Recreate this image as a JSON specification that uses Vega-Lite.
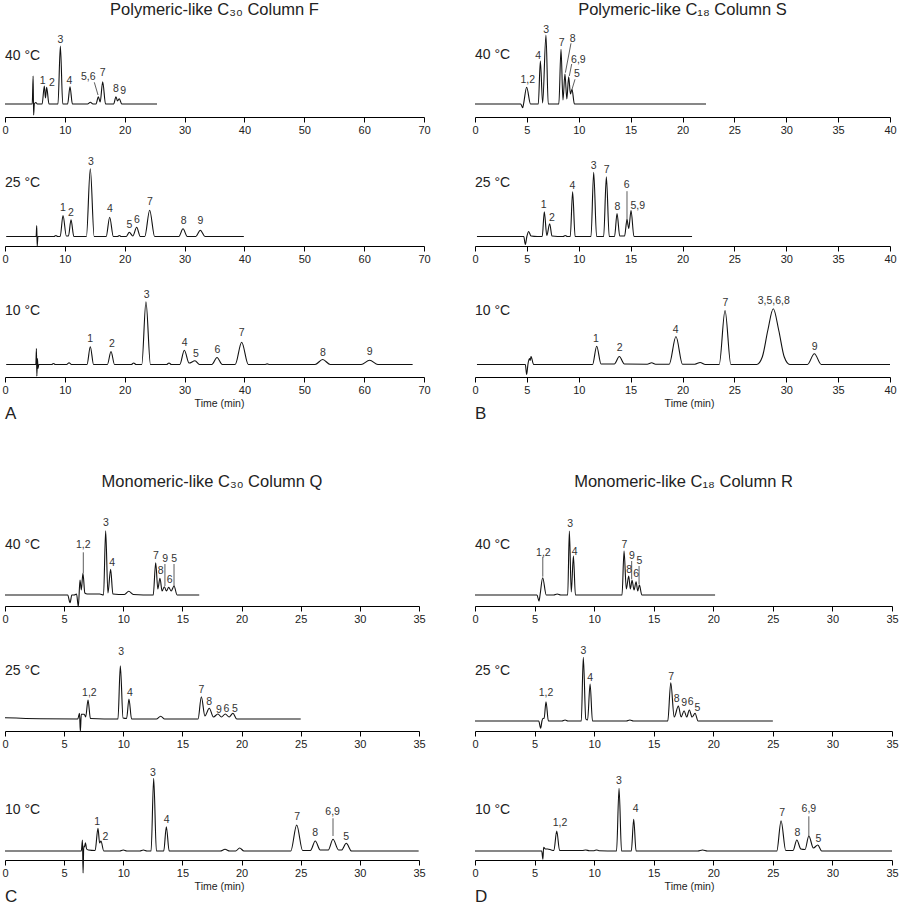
{
"$schema":"https://vega.github.io/schema/vega-lite/v6.json",
"padding":{"left":1,"top":0,"right":0,"bottom":0},
"config":{"font":"Liberation Sans","view":{"stroke":null},
"axis":{"domainColor":"#000","domainWidth":1.2,"tickColor":"#000","tickWidth":1,"tickSize":5,"labelFontSize":11,"labelColor":"#222","labelPadding":2,"labelFlush":false,"labelOverlap":false,"grid":false,"titleFontSize":10.5,"titleFontWeight":"normal","titleColor":"#222","titlePadding":3},
"line":{"interpolate":"monotone","color":"#111","strokeWidth":1.1},
"rule":{"color":"#333","strokeWidth":0.8},
"text":{"color":"#333","fontSize":10.5,"baseline":"middle"}},
"columns":2,"spacing":{"row":30,"column":51},"bounds":"flush",
"concat":[
{"width":419,"height":117,"layer":[
{"data":{"values":[{"t":0,"s":0},{"t":4.55,"s":0},{"t":4.7,"s":28},{"t":4.78,"s":-11},{"t":4.9,"s":0},{"t":5.15,"s":1.5},{"t":5.4,"s":0},{"t":6.2,"s":0},{"t":6.57,"s":18},{"t":6.76,"s":6},{"t":6.96,"s":16.7},{"t":7.35,"s":0},{"t":8.85,"s":0},{"t":9.25,"s":58},{"t":9.65,"s":0},{"t":10.46,"s":0},{"t":10.86,"s":17.3},{"t":11.26,"s":0},{"t":13.8,"s":0},{"t":14.26,"s":1.7},{"t":14.7,"s":0},{"t":15.2,"s":0},{"t":15.6,"s":7.3},{"t":15.9,"s":2},{"t":16.32,"s":22.3},{"t":16.8,"s":0},{"t":18.15,"s":0},{"t":18.54,"s":7.3},{"t":18.8,"s":3},{"t":19.1,"s":5.3},{"t":19.5,"s":0},{"t":25.4,"s":0}]},
"mark":"line","encoding":{"x":{"field":"t","type":"quantitative","scale":{"domain":[0,70],"nice":false},"axis":{"values":[0,10,20,30,40,50,60,70],"title":null}},"y":{"field":"s","type":"quantitative","scale":{"domain":[-13,104],"nice":false,"zero":false},"axis":null}}},
{"data":{"values":[{"t":6.3,"s":23,"lab":"1"},{"t":7.85,"s":21.3,"lab":"2"},{"t":9.24,"s":64,"lab":"3"},{"t":10.75,"s":23.3,"lab":"4"},{"t":13.92,"s":26.7,"lab":"5,6"},{"t":16.32,"s":31.3,"lab":"7"},{"t":18.54,"s":15,"lab":"8"},{"t":19.76,"s":13.3,"lab":"9"}]},
"mark":"text","encoding":{"x":{"field":"t","type":"quantitative","title":null},"y":{"field":"s","type":"quantitative","axis":null},"text":{"field":"lab"}}},
{"data":{"values":[{"t":14.92,"s":21.7,"t2":15.54,"s2":9}]},"mark":"rule","encoding":{"x":{"field":"t","type":"quantitative","title":null},"y":{"field":"s","type":"quantitative","axis":null},"x2":{"field":"t2"},"y2":{"field":"s2"}}},
{"data":{"values":[{"lab":"40 °C"}]},"mark":{"type":"text","align":"left","baseline":"alphabetic","fontSize":14,"color":"#222"},"encoding":{"x":{"datum":0,"type":"quantitative","title":null},"y":{"datum":44,"type":"quantitative","axis":null},"text":{"field":"lab"}}},
{"data":{"values":[{"lab":"Polymeric-like C₃₀ Column F"}]},"mark":{"type":"text","align":"center","baseline":"alphabetic","fontSize":16.5,"color":"#222"},"encoding":{"x":{"datum":35,"type":"quantitative","title":null},"y":{"datum":89.5,"type":"quantitative","axis":null},"text":{"field":"lab"}}}
]},
{"width":415,"height":117,"layer":[
{"data":{"values":[{"t":0,"s":0},{"t":4.4,"s":0},{"t":4.6,"s":-3.7},{"t":4.68,"s":0},{"t":4.98,"s":16.7},{"t":5.35,"s":0},{"t":6.1,"s":0},{"t":6.3,"s":43},{"t":6.52,"s":1},{"t":6.84,"s":69},{"t":7.06,"s":0},{"t":8.08,"s":0},{"t":8.29,"s":54.7},{"t":8.48,"s":4},{"t":8.67,"s":30},{"t":8.85,"s":5},{"t":9.03,"s":27.3},{"t":9.2,"s":10},{"t":9.35,"s":14.7},{"t":9.58,"s":0},{"t":22.27,"s":0}]},
"mark":"line","encoding":{"x":{"field":"t","type":"quantitative","scale":{"domain":[0,40],"nice":false},"axis":{"values":[0,5,10,15,20,25,30,35,40],"title":null}},"y":{"field":"s","type":"quantitative","scale":{"domain":[-13,104],"nice":false,"zero":false},"axis":null}}},
{"data":{"values":[{"t":5.08,"s":24,"lab":"1,2"},{"t":6.1,"s":48,"lab":"4"},{"t":6.87,"s":74,"lab":"3"},{"t":8.35,"s":60.7,"lab":"7"},{"t":9.41,"s":64.7,"lab":"8"},{"t":9.96,"s":44,"lab":"6,9"},{"t":9.83,"s":30,"lab":"5"}]},
"mark":"text","encoding":{"x":{"field":"t","type":"quantitative","title":null},"y":{"field":"s","type":"quantitative","axis":null},"text":{"field":"lab"}}},
{"data":{"values":[{"t":9.25,"s":60.7,"t2":8.71,"s2":31.3},{"t":9.32,"s":40,"t2":9.09,"s2":28},{"t":9.64,"s":24.7,"t2":9.35,"s2":14.7}]},"mark":"rule","encoding":{"x":{"field":"t","type":"quantitative","title":null},"y":{"field":"s","type":"quantitative","axis":null},"x2":{"field":"t2"},"y2":{"field":"s2"}}},
{"data":{"values":[{"lab":"40 °C"}]},"mark":{"type":"text","align":"left","baseline":"alphabetic","fontSize":14,"color":"#222"},"encoding":{"x":{"datum":0,"type":"quantitative","title":null},"y":{"datum":44.7,"type":"quantitative","axis":null},"text":{"field":"lab"}}},
{"data":{"values":[{"lab":"Polymeric-like C₁₈ Column S"}]},"mark":{"type":"text","align":"center","baseline":"alphabetic","fontSize":16.5,"color":"#222"},"encoding":{"x":{"datum":20,"type":"quantitative","title":null},"y":{"datum":89.5,"type":"quantitative","axis":null},"text":{"field":"lab"}}}
]},
{"width":419,"height":99,"layer":[
{"data":{"values":[{"t":0.2,"s":0},{"t":5.2,"s":0},{"t":5.3,"s":11},{"t":5.38,"s":-9.7},{"t":5.5,"s":0},{"t":8.2,"s":0},{"t":8.5,"s":1},{"t":8.8,"s":0},{"t":9.22,"s":0},{"t":9.69,"s":21},{"t":10.25,"s":0.5},{"t":10.6,"s":0.5},{"t":11.03,"s":16.7},{"t":11.5,"s":0},{"t":13.6,"s":0},{"t":14.25,"s":67.7},{"t":14.9,"s":0},{"t":16.9,"s":0},{"t":17.49,"s":19.3},{"t":18.1,"s":0},{"t":18.8,"s":0},{"t":19.1,"s":1},{"t":19.4,"s":0},{"t":20.27,"s":0},{"t":20.77,"s":4.3},{"t":21.35,"s":0.5},{"t":22.0,"s":9.3},{"t":22.6,"s":0},{"t":23.35,"s":0},{"t":24.17,"s":26.3},{"t":25.0,"s":0},{"t":29.05,"s":0},{"t":29.74,"s":7.7},{"t":30.45,"s":0},{"t":31.88,"s":0},{"t":32.63,"s":6.3},{"t":33.4,"s":0},{"t":39.9,"s":0}]},
"mark":"line","encoding":{"x":{"field":"t","type":"quantitative","scale":{"domain":[0,70],"nice":false},"axis":{"values":[0,10,20,30,40,50,60,70],"title":null}},"y":{"field":"s","type":"quantitative","scale":{"domain":[-9.5,89.5],"nice":false,"zero":false},"axis":null}}},
{"data":{"values":[{"t":9.69,"s":28.7,"lab":"1"},{"t":11.03,"s":23.7,"lab":"2"},{"t":14.37,"s":74.3,"lab":"3"},{"t":17.54,"s":28,"lab":"4"},{"t":20.77,"s":11.3,"lab":"5"},{"t":22.05,"s":17,"lab":"6"},{"t":24.22,"s":35,"lab":"7"},{"t":29.85,"s":16,"lab":"8"},{"t":32.63,"s":15.3,"lab":"9"}]},
"mark":"text","encoding":{"x":{"field":"t","type":"quantitative","title":null},"y":{"field":"s","type":"quantitative","axis":null},"text":{"field":"lab"}}},
{"data":{"values":[{"lab":"25 °C"}]},"mark":{"type":"text","align":"left","baseline":"alphabetic","fontSize":14,"color":"#222"},"encoding":{"x":{"datum":0,"type":"quantitative","title":null},"y":{"datum":49.7,"type":"quantitative","axis":null},"text":{"field":"lab"}}}
]},
{"width":415,"height":99,"layer":[
{"data":{"values":[{"t":0.19,"s":0},{"t":4.7,"s":0},{"t":4.85,"s":-8},{"t":5.0,"s":0},{"t":5.17,"s":5},{"t":5.4,"s":0.5},{"t":6.0,"s":0},{"t":6.48,"s":0},{"t":6.68,"s":24.7},{"t":6.92,"s":1},{"t":7.2,"s":12.7},{"t":7.42,"s":0.5},{"t":8.5,"s":0},{"t":8.7,"s":1},{"t":8.9,"s":0},{"t":9.18,"s":0},{"t":9.41,"s":44.7},{"t":9.65,"s":0},{"t":11.18,"s":0},{"t":11.44,"s":64.3},{"t":11.72,"s":0},{"t":12.4,"s":0},{"t":12.66,"s":59.7},{"t":12.94,"s":0},{"t":13.45,"s":0},{"t":13.69,"s":23},{"t":13.95,"s":0.5},{"t":14.42,"s":0.5},{"t":14.65,"s":17},{"t":14.82,"s":8},{"t":15.04,"s":26},{"t":15.32,"s":0},{"t":20.92,"s":0}]},
"mark":"line","encoding":{"x":{"field":"t","type":"quantitative","scale":{"domain":[0,40],"nice":false},"axis":{"values":[0,5,10,15,20,25,30,35,40],"title":null}},"y":{"field":"s","type":"quantitative","scale":{"domain":[-9.5,89.5],"nice":false,"zero":false},"axis":null}}},
{"data":{"values":[{"t":6.62,"s":31.3,"lab":"1"},{"t":7.42,"s":18.7,"lab":"2"},{"t":9.38,"s":51,"lab":"4"},{"t":11.44,"s":71,"lab":"3"},{"t":12.69,"s":66.3,"lab":"7"},{"t":13.72,"s":29.3,"lab":"8"},{"t":14.62,"s":51.7,"lab":"6"},{"t":15.68,"s":31,"lab":"5,9"}]},
"mark":"text","encoding":{"x":{"field":"t","type":"quantitative","title":null},"y":{"field":"s","type":"quantitative","axis":null},"text":{"field":"lab"}}},
{"data":{"values":[{"t":14.65,"s":45.3,"t2":14.65,"s2":12}]},"mark":"rule","encoding":{"x":{"field":"t","type":"quantitative","title":null},"y":{"field":"s","type":"quantitative","axis":null},"x2":{"field":"t2"},"y2":{"field":"s2"}}},
{"data":{"values":[{"lab":"25 °C"}]},"mark":{"type":"text","align":"left","baseline":"alphabetic","fontSize":14,"color":"#222"},"encoding":{"x":{"datum":0,"type":"quantitative","title":null},"y":{"datum":50,"type":"quantitative","axis":null},"text":{"field":"lab"}}}
]},
{"width":419,"height":101,"layer":[
{"data":{"values":[{"t":0.2,"s":0},{"t":5.15,"s":0},{"t":5.25,"s":16},{"t":5.32,"s":-11.7},{"t":5.42,"s":6},{"t":5.52,"s":-4},{"t":5.65,"s":0},{"t":7.8,"s":0},{"t":8.1,"s":1},{"t":8.4,"s":0},{"t":10.3,"s":0},{"t":10.7,"s":1.7},{"t":11.1,"s":0},{"t":13.7,"s":0},{"t":14.25,"s":17.7},{"t":14.8,"s":0},{"t":17.1,"s":0},{"t":17.71,"s":13},{"t":18.3,"s":0},{"t":21.1,"s":0},{"t":21.5,"s":1.5},{"t":21.9,"s":0},{"t":22.85,"s":0},{"t":23.55,"s":62.7},{"t":24.3,"s":0},{"t":27.0,"s":0},{"t":27.4,"s":1.5},{"t":27.8,"s":0},{"t":29.2,"s":0},{"t":29.96,"s":14.3},{"t":30.75,"s":1.5},{"t":31.74,"s":3.7},{"t":32.5,"s":0},{"t":34.55,"s":0},{"t":35.42,"s":7},{"t":36.3,"s":0},{"t":38.45,"s":0},{"t":39.54,"s":22.3},{"t":40.65,"s":0},{"t":43.4,"s":0},{"t":43.8,"s":0.6},{"t":44.2,"s":0},{"t":51.8,"s":0},{"t":53.07,"s":5},{"t":54.35,"s":0},{"t":59.5,"s":0},{"t":60.92,"s":4.3},{"t":62.3,"s":0},{"t":68.1,"s":0}]},
"mark":"line","encoding":{"x":{"field":"t","type":"quantitative","scale":{"domain":[0,70],"nice":false},"axis":{"values":[0,10,20,30,40,50,60,70],"title":"Time (min)","titleX":214}},"y":{"field":"s","type":"quantitative","scale":{"domain":[-12.5,88.5],"nice":false,"zero":false},"axis":null}}},
{"data":{"values":[{"t":14.25,"s":26,"lab":"1"},{"t":17.87,"s":21,"lab":"2"},{"t":23.67,"s":69.3,"lab":"3"},{"t":30.02,"s":21.6,"lab":"4"},{"t":31.9,"s":11,"lab":"5"},{"t":35.47,"s":14.3,"lab":"6"},{"t":39.54,"s":32,"lab":"7"},{"t":53.12,"s":12,"lab":"8"},{"t":60.92,"s":12.6,"lab":"9"}]},
"mark":"text","encoding":{"x":{"field":"t","type":"quantitative","title":"Time (min)"},"y":{"field":"s","type":"quantitative","axis":null},"text":{"field":"lab"}}},
{"data":{"values":[{"lab":"10 °C"}]},"mark":{"type":"text","align":"left","baseline":"alphabetic","fontSize":14,"color":"#222"},"encoding":{"x":{"datum":0,"type":"quantitative","title":"Time (min)"},"y":{"datum":50,"type":"quantitative","axis":null},"text":{"field":"lab"}}},
{"data":{"values":[{"lab":"A"}]},"mark":{"type":"text","align":"left","baseline":"alphabetic","fontSize":17,"color":"#222"},"encoding":{"x":{"datum":0,"type":"quantitative","title":"Time (min)"},"y":{"datum":-54.7,"type":"quantitative","scale":{"domain":[-12.5,88.5],"nice":false,"zero":false},"axis":null},"text":{"field":"lab"}}}
]},
{"width":415,"height":101,"layer":[
{"data":{"values":[{"t":0.19,"s":0},{"t":4.85,"s":0},{"t":4.98,"s":-10},{"t":5.1,"s":0},{"t":5.25,"s":6},{"t":5.32,"s":4},{"t":5.4,"s":8},{"t":5.65,"s":0},{"t":11.33,"s":0},{"t":11.73,"s":18.3},{"t":12.15,"s":0.5},{"t":13.43,"s":0.5},{"t":13.91,"s":8},{"t":14.4,"s":0.5},{"t":16.6,"s":0.3},{"t":17.03,"s":1.7},{"t":17.4,"s":0.3},{"t":18.72,"s":0.3},{"t":19.37,"s":28},{"t":20.0,"s":0.3},{"t":21.2,"s":0.3},{"t":21.7,"s":2},{"t":22.2,"s":0},{"t":23.54,"s":0},{"t":24.1,"s":54},{"t":24.66,"s":0},{"t":27.15,"s":0},{"t":27.69,"s":7.5},{"t":28.22,"s":34},{"t":28.75,"s":55.7},{"t":29.28,"s":34},{"t":29.81,"s":7.5},{"t":30.35,"s":0},{"t":32.04,"s":0},{"t":32.71,"s":10.7},{"t":33.38,"s":0},{"t":40,"s":0}]},
"mark":"line","encoding":{"x":{"field":"t","type":"quantitative","scale":{"domain":[0,40],"nice":false},"axis":{"values":[0,5,10,15,20,25,30,35,40],"title":"Time (min)","titleX":214}},"y":{"field":"s","type":"quantitative","scale":{"domain":[-12.5,88.5],"nice":false,"zero":false},"axis":null}}},
{"data":{"values":[{"t":11.66,"s":25.7,"lab":"1"},{"t":13.95,"s":16.7,"lab":"2"},{"t":19.34,"s":34.7,"lab":"4"},{"t":24.13,"s":61.3,"lab":"7"},{"t":28.79,"s":63.3,"lab":"3,5,6,8"},{"t":32.74,"s":18,"lab":"9"}]},
"mark":"text","encoding":{"x":{"field":"t","type":"quantitative","title":"Time (min)"},"y":{"field":"s","type":"quantitative","axis":null},"text":{"field":"lab"}}},
{"data":{"values":[{"lab":"10 °C"}]},"mark":{"type":"text","align":"left","baseline":"alphabetic","fontSize":14,"color":"#222"},"encoding":{"x":{"datum":0,"type":"quantitative","title":"Time (min)"},"y":{"datum":50,"type":"quantitative","axis":null},"text":{"field":"lab"}}},
{"data":{"values":[{"lab":"B"}]},"mark":{"type":"text","align":"left","baseline":"alphabetic","fontSize":17,"color":"#222"},"encoding":{"x":{"datum":0,"type":"quantitative","title":"Time (min)"},"y":{"datum":-54.7,"type":"quantitative","scale":{"domain":[-12.5,88.5],"nice":false,"zero":false},"axis":null},"text":{"field":"lab"}}}
]},
{"width":414,"height":199,"layer":[
{"data":{"values":[{"t":0,"s":0},{"t":5.3,"s":0},{"t":5.5,"s":-7.7},{"t":5.65,"s":0},{"t":5.85,"s":0},{"t":6.05,"s":1},{"t":6.2,"s":-11.7},{"t":6.34,"s":15},{"t":6.45,"s":5},{"t":6.59,"s":21.7},{"t":6.75,"s":2},{"t":6.95,"s":1},{"t":8.0,"s":1},{"t":8.33,"s":0},{"t":8.51,"s":64.3},{"t":8.7,"s":2},{"t":8.93,"s":25.7},{"t":9.12,"s":1},{"t":10.1,"s":0.5},{"t":10.46,"s":3.7},{"t":10.85,"s":0.5},{"t":12.53,"s":0},{"t":12.74,"s":32.3},{"t":12.92,"s":6},{"t":13.1,"s":16.7},{"t":13.28,"s":4},{"t":13.47,"s":8.3},{"t":13.65,"s":4},{"t":13.84,"s":7.7},{"t":14.05,"s":4},{"t":14.29,"s":9},{"t":14.55,"s":0},{"t":16.42,"s":0}]},
"mark":"line","encoding":{"x":{"field":"t","type":"quantitative","scale":{"domain":[0,35],"nice":false},"axis":{"values":[0,5,10,15,20,25,30,35],"title":null}},"y":{"field":"s","type":"quantitative","scale":{"domain":[-11,188],"nice":false,"zero":false},"axis":null}}},
{"data":{"values":[{"t":6.62,"s":50,"lab":"1,2"},{"t":8.54,"s":71.7,"lab":"3"},{"t":9.07,"s":32.3,"lab":"4"},{"t":12.76,"s":39.3,"lab":"7"},{"t":13.16,"s":24.3,"lab":"8"},{"t":13.55,"s":36,"lab":"9"},{"t":13.92,"s":15,"lab":"6"},{"t":14.31,"s":36,"lab":"5"}]},
"mark":"text","encoding":{"x":{"field":"t","type":"quantitative","title":null},"y":{"field":"s","type":"quantitative","axis":null},"text":{"field":"lab"}}},
{"data":{"values":[{"t":6.62,"s":42.7,"t2":6.62,"s2":21.7},{"t":13.52,"s":31,"t2":13.52,"s2":9},{"t":14.29,"s":31,"t2":14.29,"s2":9}]},"mark":"rule","encoding":{"x":{"field":"t","type":"quantitative","title":null},"y":{"field":"s","type":"quantitative","axis":null},"x2":{"field":"t2"},"y2":{"field":"s2"}}},
{"data":{"values":[{"lab":"40 °C"}]},"mark":{"type":"text","align":"left","baseline":"alphabetic","fontSize":14,"color":"#222"},"encoding":{"x":{"datum":0,"type":"quantitative","title":null},"y":{"datum":46,"type":"quantitative","axis":null},"text":{"field":"lab"}}},
{"data":{"values":[{"lab":"Monomeric-like C₃₀ Column Q"}]},"mark":{"type":"text","align":"center","baseline":"alphabetic","fontSize":16.5,"color":"#222"},"encoding":{"x":{"datum":17.5,"type":"quantitative","title":null},"y":{"datum":108,"type":"quantitative","axis":null},"text":{"field":"lab"}}}
]},
{"width":417,"height":199,"layer":[
{"data":{"values":[{"t":0,"s":0},{"t":5.2,"s":0},{"t":5.37,"s":-6},{"t":5.46,"s":0},{"t":5.68,"s":17.3},{"t":5.98,"s":0},{"t":6.6,"s":0},{"t":6.9,"s":1},{"t":7.2,"s":0},{"t":7.78,"s":0},{"t":7.92,"s":64},{"t":8.08,"s":3},{"t":8.26,"s":39},{"t":8.43,"s":0},{"t":12.34,"s":0},{"t":12.51,"s":44},{"t":12.7,"s":6},{"t":12.9,"s":19},{"t":13.04,"s":6},{"t":13.18,"s":14.7},{"t":13.35,"s":5},{"t":13.52,"s":13.3},{"t":13.66,"s":4},{"t":13.8,"s":10},{"t":14.0,"s":0},{"t":20.15,"s":0}]},
"mark":"line","encoding":{"x":{"field":"t","type":"quantitative","scale":{"domain":[0,35],"nice":false},"axis":{"values":[0,5,10,15,20,25,30,35],"title":null}},"y":{"field":"s","type":"quantitative","scale":{"domain":[-11,188],"nice":false,"zero":false},"axis":null}}},
{"data":{"values":[{"t":5.74,"s":42.3,"lab":"1,2"},{"t":7.98,"s":70.7,"lab":"3"},{"t":8.37,"s":43,"lab":"4"},{"t":12.54,"s":49.7,"lab":"7"},{"t":12.93,"s":25,"lab":"8"},{"t":13.18,"s":39,"lab":"9"},{"t":13.52,"s":20.7,"lab":"6"},{"t":13.8,"s":34,"lab":"5"}]},
"mark":"text","encoding":{"x":{"field":"t","type":"quantitative","title":null},"y":{"field":"s","type":"quantitative","axis":null},"text":{"field":"lab"}}},
{"data":{"values":[{"t":5.69,"s":38.3,"t2":5.69,"s2":18.3},{"t":13.15,"s":34,"t2":13.15,"s2":15.7},{"t":13.77,"s":29,"t2":13.77,"s2":10.7}]},"mark":"rule","encoding":{"x":{"field":"t","type":"quantitative","title":null},"y":{"field":"s","type":"quantitative","axis":null},"x2":{"field":"t2"},"y2":{"field":"s2"}}},
{"data":{"values":[{"lab":"40 °C"}]},"mark":{"type":"text","align":"left","baseline":"alphabetic","fontSize":14,"color":"#222"},"encoding":{"x":{"datum":0,"type":"quantitative","title":null},"y":{"datum":45.7,"type":"quantitative","axis":null},"text":{"field":"lab"}}},
{"data":{"values":[{"lab":"Monomeric-like C₁₈ Column R"}]},"mark":{"type":"text","align":"center","baseline":"alphabetic","fontSize":16.5,"color":"#222"},"encoding":{"x":{"datum":17.5,"type":"quantitative","title":null},"y":{"datum":108,"type":"quantitative","axis":null},"text":{"field":"lab"}}}
]},
{"width":414,"height":95,"layer":[
{"data":{"values":[{"t":0,"s":1.3},{"t":3,"s":0.3},{"t":6.15,"s":0},{"t":6.3,"s":5.7},{"t":6.37,"s":-12.7},{"t":6.45,"s":4.7},{"t":6.7,"s":4.7},{"t":6.82,"s":2},{"t":7.02,"s":19},{"t":7.22,"s":0.5},{"t":9.55,"s":0},{"t":9.75,"s":53.3},{"t":9.98,"s":1},{"t":10.28,"s":0.5},{"t":10.48,"s":20},{"t":10.7,"s":0},{"t":12.8,"s":0},{"t":13.16,"s":2.7},{"t":13.5,"s":0},{"t":16.32,"s":0},{"t":16.6,"s":22.3},{"t":16.9,"s":3},{"t":17.27,"s":10.7},{"t":17.62,"s":2},{"t":18.0,"s":5},{"t":18.3,"s":2},{"t":18.62,"s":5},{"t":18.95,"s":2},{"t":19.27,"s":5.7},{"t":19.6,"s":0},{"t":25,"s":0}]},
"mark":"line","encoding":{"x":{"field":"t","type":"quantitative","scale":{"domain":[0,35],"nice":false},"axis":{"values":[0,5,10,15,20,25,30,35],"title":null}},"y":{"field":"s","type":"quantitative","scale":{"domain":[-12,83],"nice":false,"zero":false},"axis":null}}},
{"data":{"values":[{"t":7.13,"s":26.3,"lab":"1,2"},{"t":9.83,"s":66.7,"lab":"3"},{"t":10.57,"s":25.7,"lab":"4"},{"t":16.6,"s":29,"lab":"7"},{"t":17.27,"s":17.3,"lab":"8"},{"t":18.09,"s":9,"lab":"9"},{"t":18.71,"s":10.3,"lab":"6"},{"t":19.44,"s":9.7,"lab":"5"}]},
"mark":"text","encoding":{"x":{"field":"t","type":"quantitative","title":null},"y":{"field":"s","type":"quantitative","axis":null},"text":{"field":"lab"}}},
{"data":{"values":[{"lab":"25 °C"}]},"mark":{"type":"text","align":"left","baseline":"alphabetic","fontSize":14,"color":"#222"},"encoding":{"x":{"datum":0,"type":"quantitative","title":null},"y":{"datum":44,"type":"quantitative","axis":null},"text":{"field":"lab"}}}
]},
{"width":417,"height":95,"layer":[
{"data":{"values":[{"t":0,"s":0},{"t":5.35,"s":0},{"t":5.51,"s":-7.3},{"t":5.62,"s":0},{"t":5.72,"s":2.7},{"t":5.8,"s":2.5},{"t":5.96,"s":19.3},{"t":6.16,"s":0},{"t":7.3,"s":0},{"t":7.56,"s":1},{"t":7.8,"s":0},{"t":8.92,"s":0},{"t":9.09,"s":63.7},{"t":9.3,"s":2},{"t":9.45,"s":1},{"t":9.66,"s":37},{"t":9.86,"s":0},{"t":12.7,"s":0},{"t":13.0,"s":1},{"t":13.3,"s":0},{"t":16.18,"s":0},{"t":16.43,"s":38.3},{"t":16.72,"s":4},{"t":17.07,"s":15},{"t":17.3,"s":4},{"t":17.55,"s":10.3},{"t":17.77,"s":4},{"t":17.99,"s":11},{"t":18.22,"s":4},{"t":18.47,"s":7.7},{"t":18.72,"s":0},{"t":25,"s":0}]},
"mark":"line","encoding":{"x":{"field":"t","type":"quantitative","scale":{"domain":[0,35],"nice":false},"axis":{"values":[0,5,10,15,20,25,30,35],"title":null}},"y":{"field":"s","type":"quantitative","scale":{"domain":[-10,85],"nice":false,"zero":false},"axis":null}}},
{"data":{"values":[{"t":5.96,"s":27.7,"lab":"1,2"},{"t":9.09,"s":70.3,"lab":"3"},{"t":9.66,"s":42.7,"lab":"4"},{"t":16.46,"s":44.3,"lab":"7"},{"t":16.93,"s":21.7,"lab":"8"},{"t":17.55,"s":17.7,"lab":"9"},{"t":18.11,"s":19.3,"lab":"6"},{"t":18.67,"s":12.7,"lab":"5"}]},
"mark":"text","encoding":{"x":{"field":"t","type":"quantitative","title":null},"y":{"field":"s","type":"quantitative","axis":null},"text":{"field":"lab"}}},
{"data":{"values":[{"lab":"25 °C"}]},"mark":{"type":"text","align":"left","baseline":"alphabetic","fontSize":14,"color":"#222"},"encoding":{"x":{"datum":0,"type":"quantitative","title":null},"y":{"datum":46,"type":"quantitative","axis":null},"text":{"field":"lab"}}}
]},
{"width":414,"height":99,"layer":[
{"data":{"values":[{"t":0,"s":0},{"t":6.45,"s":0},{"t":6.55,"s":11},{"t":6.6,"s":-22},{"t":6.66,"s":5},{"t":6.72,"s":4},{"t":6.8,"s":8.3},{"t":6.9,"s":2},{"t":7.05,"s":1},{"t":7.62,"s":0.5},{"t":7.86,"s":22.7},{"t":8.0,"s":8},{"t":8.11,"s":10},{"t":8.35,"s":0},{"t":9.7,"s":0},{"t":10.0,"s":1},{"t":10.3,"s":0},{"t":11.4,"s":0},{"t":11.7,"s":1},{"t":12.0,"s":0},{"t":12.35,"s":0},{"t":12.57,"s":72.7},{"t":12.8,"s":0},{"t":13.42,"s":0},{"t":13.64,"s":24.3},{"t":13.88,"s":0},{"t":18.2,"s":0},{"t":18.6,"s":1.7},{"t":19.0,"s":0},{"t":19.5,"s":0},{"t":19.84,"s":3},{"t":20.2,"s":0},{"t":24.16,"s":0},{"t":24.66,"s":26},{"t":25.16,"s":0.5},{"t":25.82,"s":0.5},{"t":26.23,"s":10},{"t":26.65,"s":1},{"t":27.33,"s":1},{"t":27.73,"s":11.7},{"t":28.2,"s":1},{"t":28.45,"s":1},{"t":28.85,"s":7.7},{"t":29.3,"s":0},{"t":34.97,"s":0}]},
"mark":"line","encoding":{"x":{"field":"t","type":"quantitative","scale":{"domain":[0,35],"nice":false},"axis":{"values":[0,5,10,15,20,25,30,35],"title":"Time (min)","titleX":214}},"y":{"field":"s","type":"quantitative","scale":{"domain":[-9,90],"nice":false,"zero":false},"axis":null}}},
{"data":{"values":[{"t":7.8,"s":29.3,"lab":"1"},{"t":8.48,"s":14.3,"lab":"2"},{"t":12.51,"s":78.3,"lab":"3"},{"t":13.67,"s":31,"lab":"4"},{"t":24.71,"s":33.7,"lab":"7"},{"t":26.23,"s":17.7,"lab":"8"},{"t":27.7,"s":39.3,"lab":"6,9"},{"t":28.85,"s":14.3,"lab":"5"}]},
"mark":"text","encoding":{"x":{"field":"t","type":"quantitative","title":"Time (min)"},"y":{"field":"s","type":"quantitative","axis":null},"text":{"field":"lab"}}},
{"data":{"values":[{"t":27.73,"s":32.7,"t2":27.73,"s2":15}]},"mark":"rule","encoding":{"x":{"field":"t","type":"quantitative","title":"Time (min)"},"y":{"field":"s","type":"quantitative","axis":null},"x2":{"field":"t2"},"y2":{"field":"s2"}}},
{"data":{"values":[{"lab":"10 °C"}]},"mark":{"type":"text","align":"left","baseline":"alphabetic","fontSize":14,"color":"#222"},"encoding":{"x":{"datum":0,"type":"quantitative","title":"Time (min)"},"y":{"datum":36.7,"type":"quantitative","axis":null},"text":{"field":"lab"}}},
{"data":{"values":[{"lab":"C"}]},"mark":{"type":"text","align":"left","baseline":"alphabetic","fontSize":17,"color":"#222"},"encoding":{"x":{"datum":0,"type":"quantitative","title":"Time (min)"},"y":{"datum":-51,"type":"quantitative","scale":{"domain":[-9,90],"nice":false,"zero":false},"axis":null},"text":{"field":"lab"}}}
]},
{"width":417,"height":99,"layer":[
{"data":{"values":[{"t":0,"s":0},{"t":5.6,"s":0},{"t":5.7,"s":-8.3},{"t":5.76,"s":3.7},{"t":5.9,"s":2},{"t":6.1,"s":2},{"t":6.4,"s":1},{"t":6.62,"s":0.5},{"t":6.86,"s":20},{"t":7.1,"s":0.5},{"t":9.0,"s":0.5},{"t":9.3,"s":1},{"t":9.6,"s":0.3},{"t":10.0,"s":0.3},{"t":10.2,"s":1},{"t":10.4,"s":0.3},{"t":11.88,"s":0},{"t":12.09,"s":62.7},{"t":12.3,"s":0},{"t":13.12,"s":0},{"t":13.32,"s":31.7},{"t":13.52,"s":0},{"t":18.7,"s":0},{"t":19.1,"s":1},{"t":19.5,"s":0},{"t":25.33,"s":0},{"t":25.69,"s":30.3},{"t":26.08,"s":0.5},{"t":26.7,"s":0.5},{"t":27.01,"s":11},{"t":27.35,"s":2},{"t":27.7,"s":1.5},{"t":28.02,"s":15},{"t":28.4,"s":3},{"t":28.77,"s":6},{"t":29.1,"s":0},{"t":35,"s":0}]},
"mark":"line","encoding":{"x":{"field":"t","type":"quantitative","scale":{"domain":[0,35],"nice":false},"axis":{"values":[0,5,10,15,20,25,30,35],"title":"Time (min)","titleX":214}},"y":{"field":"s","type":"quantitative","scale":{"domain":[-9,90],"nice":false,"zero":false},"axis":null}}},
{"data":{"values":[{"t":7.14,"s":28.3,"lab":"1,2"},{"t":12.09,"s":70,"lab":"3"},{"t":13.49,"s":42,"lab":"4"},{"t":25.78,"s":38.3,"lab":"7"},{"t":27.06,"s":17.7,"lab":"8"},{"t":28.02,"s":41.7,"lab":"6,9"},{"t":28.83,"s":12,"lab":"5"}]},
"mark":"text","encoding":{"x":{"field":"t","type":"quantitative","title":"Time (min)"},"y":{"field":"s","type":"quantitative","axis":null},"text":{"field":"lab"}}},
{"data":{"values":[{"t":28.02,"s":34.7,"t2":28.02,"s2":15}]},"mark":"rule","encoding":{"x":{"field":"t","type":"quantitative","title":"Time (min)"},"y":{"field":"s","type":"quantitative","axis":null},"x2":{"field":"t2"},"y2":{"field":"s2"}}},
{"data":{"values":[{"lab":"10 °C"}]},"mark":{"type":"text","align":"left","baseline":"alphabetic","fontSize":14,"color":"#222"},"encoding":{"x":{"datum":0,"type":"quantitative","title":"Time (min)"},"y":{"datum":36.7,"type":"quantitative","axis":null},"text":{"field":"lab"}}},
{"data":{"values":[{"lab":"D"}]},"mark":{"type":"text","align":"left","baseline":"alphabetic","fontSize":17,"color":"#222"},"encoding":{"x":{"datum":0,"type":"quantitative","title":"Time (min)"},"y":{"datum":-51,"type":"quantitative","scale":{"domain":[-9,90],"nice":false,"zero":false},"axis":null},"text":{"field":"lab"}}}
]}
]
}
